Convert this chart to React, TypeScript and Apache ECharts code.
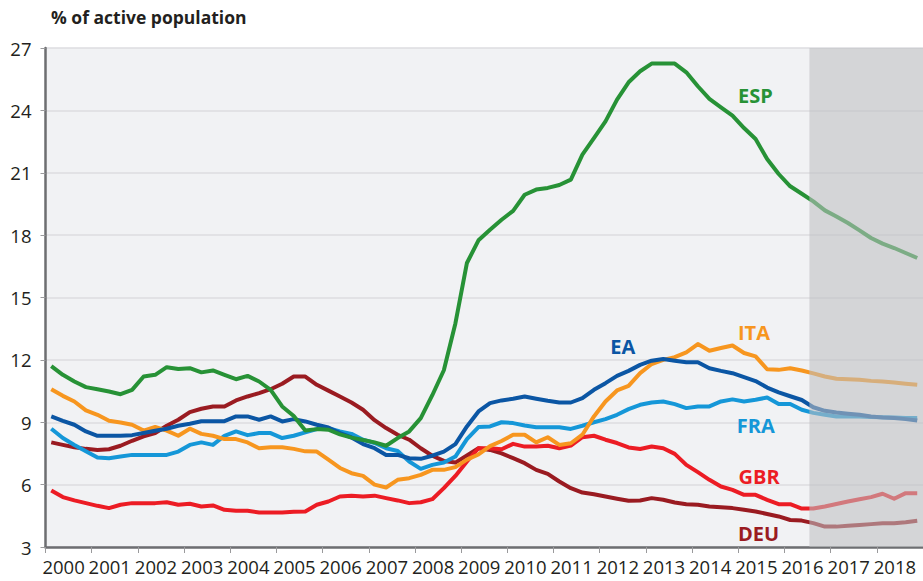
import React, { useEffect, useRef } from "react";
import * as echarts from "echarts";

// ---- Data -----------------------------------------------------------------
const years = [
  "2000", "2001", "2002", "2003", "2004", "2005", "2006", "2007", "2008", "2009",
  "2010", "2011", "2012", "2013", "2014", "2015", "2016", "2017", "2018",
];
const yTicks = { min: 3, max: 27, step: 3 };
const projectionStart = 2016.54;

// quarterly values, 2000Q1 .. 2018Q4 (from 2016Q3 on: projection)
const ESP = [
  11.7, 11.28, 10.96, 10.69,
  10.59, 10.48, 10.35, 10.56,
  11.2, 11.28, 11.65, 11.56,
  11.6, 11.4, 11.49, 11.28,
  11.07, 11.23, 10.96, 10.56,
  9.76, 9.3, 8.6, 8.67,
  8.64, 8.42, 8.26, 8.15,
  8.03, 7.87, 8.24, 8.56,
  9.2, 10.3, 11.5, 13.75,
  16.66, 17.75, 18.26, 18.74,
  19.17, 19.94, 20.19, 20.27,
  20.41, 20.67, 21.87, 22.67,
  23.47, 24.52, 25.35, 25.88,
  26.25, 26.25, 26.25, 25.83,
  25.16, 24.55, 24.15, 23.75,
  23.15, 22.62, 21.66, 20.94,
  20.35, 19.99, 19.62, 19.19,
  18.9, 18.58, 18.23, 17.86,
  17.59, 17.38, 17.14, 16.9,
];
const ITA = [
  10.59, 10.27, 10.0, 9.57,
  9.36, 9.07, 8.99, 8.88,
  8.6, 8.77, 8.6, 8.35,
  8.69, 8.44, 8.35, 8.19,
  8.19, 8.03, 7.75, 7.8,
  7.8, 7.72, 7.6, 7.59,
  7.2, 6.8, 6.55, 6.42,
  6.0, 5.86, 6.23, 6.31,
  6.47, 6.71, 6.71, 6.84,
  7.2, 7.45, 7.85, 8.1,
  8.4, 8.4, 8.03, 8.28,
  7.91, 7.99, 8.4, 9.28,
  10.0, 10.53, 10.75, 11.36,
  11.8, 12.0, 12.13, 12.36,
  12.76, 12.44, 12.57, 12.69,
  12.33, 12.17, 11.55, 11.52,
  11.6, 11.49, 11.35, 11.2,
  11.09, 11.07, 11.04, 10.99,
  10.96, 10.91, 10.85, 10.8,
];
const EA = [
  9.28, 9.07, 8.88, 8.56,
  8.35, 8.35, 8.35, 8.38,
  8.48, 8.59, 8.69, 8.83,
  8.93, 9.05, 9.05, 9.05,
  9.28, 9.28, 9.12, 9.28,
  9.04, 9.15, 9.04, 8.88,
  8.75, 8.48, 8.27, 7.95,
  7.75, 7.43, 7.43, 7.27,
  7.24, 7.39, 7.59, 7.95,
  8.8, 9.52, 9.92, 10.05,
  10.13, 10.24, 10.13, 10.03,
  9.95, 9.95, 10.16, 10.56,
  10.88, 11.23, 11.47, 11.76,
  11.96, 12.04, 11.96, 11.89,
  11.89, 11.6, 11.47, 11.36,
  11.17, 10.98, 10.67, 10.44,
  10.25, 10.07, 9.72, 9.55,
  9.47, 9.41, 9.36, 9.28,
  9.23, 9.2, 9.15, 9.08,
];
const FRA = [
  8.69, 8.24, 7.91, 7.6,
  7.3, 7.27, 7.35, 7.43,
  7.43, 7.43, 7.43, 7.59,
  7.91, 8.03, 7.91, 8.35,
  8.56, 8.38, 8.48, 8.48,
  8.24, 8.35, 8.51, 8.67,
  8.72, 8.56, 8.44, 8.16,
  8.0, 7.75, 7.62, 7.11,
  6.76, 6.95, 7.06, 7.35,
  8.19, 8.77, 8.8, 9.0,
  8.96, 8.84, 8.76, 8.76,
  8.76, 8.68, 8.83, 9.0,
  9.15, 9.36, 9.63, 9.84,
  9.95, 10.0, 9.87, 9.68,
  9.76, 9.76, 10.0, 10.1,
  10.0, 10.08, 10.19, 9.88,
  9.88, 9.6, 9.45, 9.36,
  9.28, 9.28, 9.28, 9.25,
  9.24, 9.23, 9.2, 9.2,
];
const GBR = [
  5.72, 5.4, 5.24, 5.11,
  4.98, 4.87, 5.03, 5.11,
  5.11, 5.11, 5.15, 5.03,
  5.08, 4.95, 5.0, 4.79,
  4.74, 4.74, 4.66, 4.66,
  4.66, 4.69, 4.71, 5.03,
  5.19, 5.43, 5.47, 5.43,
  5.47, 5.35, 5.24, 5.11,
  5.15, 5.3, 5.83, 6.42,
  7.11, 7.75, 7.75, 7.7,
  7.96, 7.83, 7.83, 7.87,
  7.75, 7.88, 8.28, 8.35,
  8.16, 8.0, 7.79, 7.71,
  7.83, 7.75, 7.48, 6.95,
  6.6, 6.23, 5.91, 5.75,
  5.51, 5.51, 5.27, 5.06,
  5.06, 4.85, 4.85, 4.95,
  5.07, 5.19, 5.3, 5.4,
  5.56, 5.32, 5.59, 5.59,
];
const DEU = [
  8.03, 7.91, 7.8, 7.72,
  7.67, 7.7, 7.87, 8.11,
  8.32, 8.48, 8.83, 9.12,
  9.49, 9.65, 9.76, 9.76,
  10.05, 10.24, 10.4, 10.59,
  10.85, 11.2, 11.2, 10.8,
  10.52, 10.24, 9.95, 9.6,
  9.1, 8.72, 8.4, 8.16,
  7.75, 7.39, 7.14, 7.06,
  7.4, 7.75, 7.67, 7.5,
  7.27, 7.03, 6.71, 6.52,
  6.15, 5.83, 5.62, 5.54,
  5.43, 5.32, 5.22, 5.24,
  5.35, 5.27, 5.14, 5.06,
  5.03, 4.95, 4.91, 4.87,
  4.79, 4.71, 4.59, 4.47,
  4.3, 4.27, 4.15, 3.98,
  3.98, 4.02, 4.06, 4.1,
  4.14, 4.14, 4.19, 4.26,
];

// label anchors in data coordinates [year, value]
const labelAnchors: Record<string, [number, number]> = {
  ESP: [2015.37, 24.72],
  ITA: [2015.34, 13.32],
  EA: [2012.5, 12.62],
  FRA: [2015.38, 8.84],
  GBR: [2015.45, 6.39],
  DEU: [2015.44, 3.65],
};

const colors: Record<string, string> = {
  ESP: "#279236",
  ITA: "#f7961f",
  EA: "#0b56a4",
  FRA: "#1597d8",
  GBR: "#ec1c24",
  DEU: "#9a1b21",
};

const quarterTimes = years.flatMap((y) => [0, 1, 2, 3].map((q) => Number(y) + (q + 0.5) / 4));
const toPairs = (vals: number[]) => vals.map((v, i) => [quarterTimes[i], v]);

const countries: [string, number[]][] = [
  ["DEU", DEU],
  ["GBR", GBR],
  ["FRA", FRA],
  ["ITA", ITA],
  ["EA", EA],
  ["ESP", ESP],
];

const FONT = "Open Sans";

export default function App() {
  const ref = useRef<HTMLDivElement>(null);
  useEffect(() => {
    if (!ref.current) return;
    const chart = echarts.init(ref.current, null, { renderer: "svg" });
    const lineSeries = countries.map(([name, vals]) => ({
      name,
      type: "line",
      data: toPairs(vals),
      showSymbol: false,
      symbol: "none",
      z: 2,
      lineStyle: { color: colors[name], width: 4, join: "round" },
      markPoint: {
        symbol: "rect",
        symbolSize: 1,
        silent: true,
        itemStyle: { color: "rgba(0,0,0,0)" },
        label: {
          show: true,
          position: "inside",
          formatter: name,
          color: colors[name],
          fontSize: 20,
          fontWeight: "bold",
          fontFamily: FONT,
        },
        data: [{ coord: labelAnchors[name] }],
      },
    }));
    const option: any = {
      animation: false,
      textStyle: { fontFamily: FONT },
      title: {
        text: "% of active population",
        left: 46,
        top: 3,
        textStyle: { fontSize: 17.5, fontWeight: "bold", color: "#231f20", fontFamily: FONT },
      },
      grid: {
        left: 45.5,
        top: 48,
        width: 879.5,
        height: 499,
        show: true,
        backgroundColor: "#f1f2f4",
        borderWidth: 0,
      },
      xAxis: [
        {
          type: "value",
          min: 2000,
          max: 2019,
          interval: 1,
          axisLine: { show: true, onZero: false, lineStyle: { color: "#6d6e71", width: 2.5 } },
          axisTick: { show: true, length: 6, lineStyle: { color: "#9a9a9c", width: 1 } },
          axisLabel: { show: false },
          splitLine: { show: false },
        },
        {
          type: "category",
          data: years,
          position: "bottom",
          boundaryGap: true,
          axisLine: { show: false },
          axisTick: { show: false },
          splitLine: { show: false },
          axisLabel: {
            interval: 0,
            fontSize: 18.5,
            color: "#231f20",
            margin: 10,
            fontFamily: FONT,
            padding: [0, 10, 0, 0],
          },
        },
      ],
      yAxis: {
        type: "value",
        min: yTicks.min,
        max: yTicks.max,
        interval: yTicks.step,
        axisLine: { show: true, lineStyle: { color: "#6d6e71", width: 2.5 } },
        axisTick: { show: true, length: 5, lineStyle: { color: "#9a9a9c", width: 1 } },
        axisLabel: { fontSize: 18.5, color: "#231f20", margin: 14, fontFamily: FONT },
        splitLine: { show: true, lineStyle: { color: "#dcdde0", width: 1.5 } },
      },
      series: [
        ...lineSeries,
        {
          name: "projection",
          type: "line",
          data: [],
          markArea: {
            silent: true,
            z: 10,
            itemStyle: { color: "rgba(190,191,194,0.57)" },
            data: [[{ xAxis: projectionStart }, { xAxis: 2019 }]],
          },
        },
      ],
    };
    chart.setOption(option);
    return () => chart.dispose();
  }, []);
  return (
    <div
      ref={ref}
      style={{ position: "fixed", left: 0, top: 0, width: 923, height: 581, background: "#fff" }}
    />
  );
}
